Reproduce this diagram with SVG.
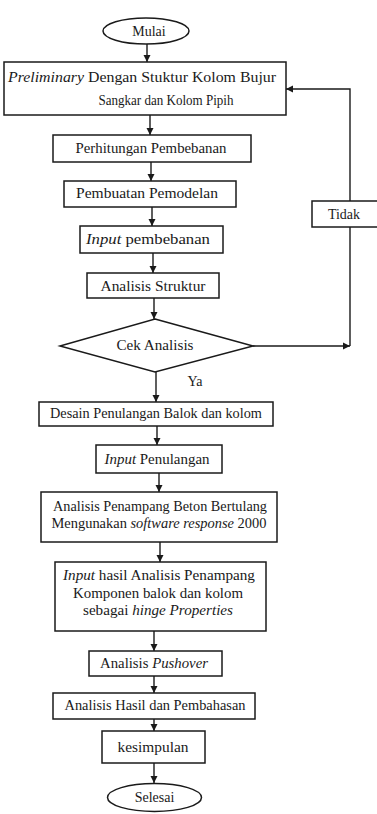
<svg xmlns="http://www.w3.org/2000/svg" width="377" height="814" viewBox="0 0 377 814">
<style>
.b{fill:#fff;stroke:#1a1a1a;stroke-width:1.5}
.c{fill:none;stroke:#1a1a1a;stroke-width:1.4}
.t{font-family:"Liberation Serif",serif;font-size:14px;fill:#1a1a1a;text-anchor:middle}
.i{font-style:italic}
</style>
<defs>
<marker id="ah" markerWidth="8" markerHeight="8" refX="7" refY="4" orient="auto" markerUnits="userSpaceOnUse">
<path d="M0,0.5 L7,4 L0,7.5 Z" fill="#1a1a1a"/>
</marker>
</defs>
<rect width="377" height="814" fill="#fff"/>
<g id="connectors">
<line class="c" x1="147" y1="44" x2="147" y2="62" marker-end="url(#ah)"/>
<line class="c" x1="150" y1="115" x2="150" y2="135" marker-end="url(#ah)"/>
<line class="c" x1="151" y1="162" x2="151" y2="181" marker-end="url(#ah)"/>
<line class="c" x1="152" y1="207" x2="152" y2="226" marker-end="url(#ah)"/>
<line class="c" x1="153" y1="253" x2="153" y2="273" marker-end="url(#ah)"/>
<line class="c" x1="154" y1="298" x2="154" y2="319" marker-end="url(#ah)"/>
<line class="c" x1="156" y1="372" x2="156" y2="402" marker-end="url(#ah)"/>
<line class="c" x1="157" y1="426" x2="157" y2="445" marker-end="url(#ah)"/>
<line class="c" x1="159" y1="473" x2="159" y2="492" marker-end="url(#ah)"/>
<line class="c" x1="160" y1="542" x2="160" y2="562" marker-end="url(#ah)"/>
<line class="c" x1="154" y1="631" x2="154" y2="651" marker-end="url(#ah)"/>
<line class="c" x1="154" y1="676" x2="154" y2="693" marker-end="url(#ah)"/>
<line class="c" x1="154" y1="719" x2="154" y2="731" marker-end="url(#ah)"/>
<line class="c" x1="154" y1="763" x2="154" y2="783" marker-end="url(#ah)"/>
<line class="c" x1="253" y1="346" x2="350" y2="346" marker-end="url(#ah)"/>
<polyline class="c" points="350,346 350,89 286,89" marker-end="url(#ah)"/>
</g>
<g id="mulai">
<ellipse class="b" cx="146" cy="31" rx="43" ry="13"/>
<text class="t" x="149" y="36">Mulai</text>
</g>
<g id="preliminary">
<rect class="b" x="4" y="62" width="282" height="53"/>
<text class="t" x="142" y="82" textLength="268" lengthAdjust="spacingAndGlyphs"><tspan class="i">Preliminary</tspan> Dengan Stuktur Kolom Bujur</text>
<text class="t" x="166" y="105" textLength="135" lengthAdjust="spacingAndGlyphs">Sangkar dan Kolom Pipih</text>
</g>
<g id="perhitungan">
<rect class="b" x="53" y="135" width="198" height="27"/>
<text class="t" x="151" y="153" textLength="151" lengthAdjust="spacingAndGlyphs">Perhitungan Pembebanan</text>
</g>
<g id="pembuatan">
<rect class="b" x="64" y="181" width="172" height="26"/>
<text class="t" x="147" y="198" textLength="142" lengthAdjust="spacingAndGlyphs">Pembuatan Pemodelan</text>
</g>
<g id="input-pembebanan">
<rect class="b" x="80" y="226" width="143" height="27"/>
<text class="t" x="148" y="244" textLength="124" lengthAdjust="spacingAndGlyphs"><tspan class="i">Input</tspan> pembebanan</text>
</g>
<g id="tidak">
<rect class="b" x="312" y="201" width="70" height="26"/>
<text class="t" x="344" y="219">Tidak</text>
</g>
<g id="analisis-struktur">
<rect class="b" x="87" y="273" width="132" height="25"/>
<text class="t" x="153" y="291" textLength="105" lengthAdjust="spacingAndGlyphs">Analisis Struktur</text>
</g>
<g id="cek-analisis">
<polygon class="b" points="155,319 253,346 155,372 60,346"/>
<text class="t" x="155" y="350" textLength="77" lengthAdjust="spacingAndGlyphs">Cek Analisis</text>
</g>
<g id="ya">
<text class="t" x="195" y="386">Ya</text>
</g>
<g id="desain">
<rect class="b" x="39" y="402" width="234" height="24"/>
<text class="t" x="156" y="418" textLength="212" lengthAdjust="spacingAndGlyphs">Desain Penulangan Balok dan kolom</text>
</g>
<g id="input-penulangan">
<rect class="b" x="96" y="445" width="126" height="28"/>
<text class="t" x="157" y="464" textLength="105" lengthAdjust="spacingAndGlyphs"><tspan class="i">Input</tspan> Penulangan</text>
</g>
<g id="analisis-penampang">
<rect class="b" x="41" y="492" width="236" height="50"/>
<text class="t" x="160" y="511" textLength="214" lengthAdjust="spacingAndGlyphs">Analisis Penampang Beton Bertulang</text>
<text class="t" x="159" y="528" textLength="215" lengthAdjust="spacingAndGlyphs">Mengunakan <tspan class="i">software response</tspan> 2000</text>
</g>
<g id="input-hasil">
<rect class="b" x="55" y="562" width="211" height="69"/>
<text class="t" x="159" y="580" textLength="192" lengthAdjust="spacingAndGlyphs"><tspan class="i">Input</tspan> hasil Analisis Penampang</text>
<text class="t" x="158" y="598" textLength="170" lengthAdjust="spacingAndGlyphs">Komponen balok dan kolom</text>
<text class="t" x="158" y="615" textLength="150" lengthAdjust="spacingAndGlyphs">sebagai <tspan class="i">hinge Properties</tspan></text>
</g>
<g id="pushover">
<rect class="b" x="89" y="651" width="133" height="25"/>
<text class="t" x="154" y="668" textLength="108" lengthAdjust="spacingAndGlyphs">Analisis <tspan class="i">Pushover</tspan></text>
</g>
<g id="hasil">
<rect class="b" x="53" y="693" width="202" height="26"/>
<text class="t" x="155" y="710" textLength="181" lengthAdjust="spacingAndGlyphs">Analisis Hasil dan Pembahasan</text>
</g>
<g id="kesimpulan">
<rect class="b" x="102" y="731" width="103" height="32"/>
<text class="t" x="153" y="752" textLength="71" lengthAdjust="spacingAndGlyphs">kesimpulan</text>
</g>
<g id="selesai">
<ellipse class="b" cx="154.5" cy="797.5" rx="47" ry="14"/>
<text class="t" x="154.5" y="802">Selesai</text>
</g>
</svg>
